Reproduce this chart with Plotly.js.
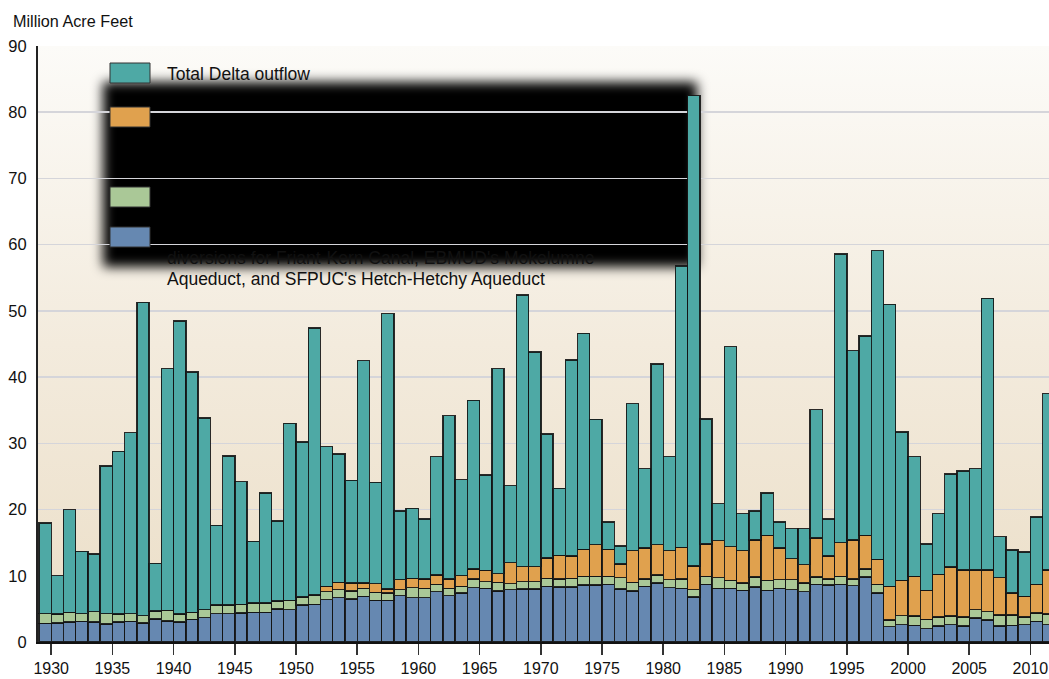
<!DOCTYPE html>
<html><head><meta charset="utf-8">
<script src="https://cdn.plot.ly/plotly-3.0.1.min.js"></script>
<style>html,body{margin:0;padding:0;background:#fff;} #chart{width:1049px;height:679px;}</style>
</head><body><div id="chart"></div><script>
const years = [1929,1930,1931,1932,1933,1934,1935,1936,1937,1938,
1939,1940,1941,1942,1943,1944,1945,1946,1947,1948,
1949,1950,1951,1952,1953,1954,1955,1956,1957,1958,
1959,1960,1961,1962,1963,1964,1965,1966,1967,1968,
1969,1970,1971,1972,1973,1974,1975,1976,1977,1978,
1979,1980,1981,1982,1983,1984,1985,1986,1987,1988,
1989,1990,1991,1992,1993,1994,1995,1996,1997,1998,
1999,2000,2001,2002,2003,2004,2005,2006,2007,2008,
2009,2010,2011];

// Upstream diversions (blue)
const upstream = [2.8,2.9,3.0,3.1,3.0,2.7,3.0,3.1,2.9,3.5,
3.2,3.0,3.4,3.7,4.3,4.3,4.4,4.5,4.5,5.0,
4.9,5.6,5.7,6.4,6.7,6.5,6.9,6.3,6.3,7.0,
6.7,6.7,7.6,7.0,7.4,8.2,8.1,7.7,7.9,8.0,
8.0,8.4,8.3,8.3,8.6,8.6,8.7,8.0,7.7,8.4,
8.9,8.2,8.1,6.8,8.7,8.1,8.1,7.8,8.3,7.8,
8.1,7.9,7.6,8.7,8.6,8.7,8.5,9.8,7.4,2.3,
2.6,2.5,2.0,2.4,2.6,2.4,3.6,3.3,2.4,2.5,
2.6,3.1,2.6];

// In-Delta diversions (green)
const inDelta = [1.5,1.3,1.5,1.2,1.6,1.6,1.2,1.2,1.1,1.2,
1.6,1.2,1.1,1.2,1.3,1.3,1.3,1.4,1.4,1.2,
1.4,1.2,1.3,1.2,1.2,1.2,1.2,1.2,1.1,0.9,
1.5,1.4,1.1,1.1,1.0,1.3,1.0,1.3,0.9,1.1,
1.1,1.2,1.2,1.3,1.3,1.3,1.2,1.7,1.3,1.1,
1.2,1.2,1.4,1.1,1.2,1.6,1.2,1.1,1.5,1.5,
1.3,1.5,1.3,1.1,0.9,1.2,1.0,1.2,1.3,1.0,
1.4,1.4,1.4,1.4,1.3,1.4,1.3,1.3,1.7,1.6,
1.2,1.3,1.6];

// Project exports (orange)
const exportsWater = [0,0,0,0,0,0,0,0,0,0,
0,0,0,0,0,0,0,0,0,0,
0,0,0.1,0.8,1.1,1.2,0.8,1.3,0.6,1.5,
1.4,1.4,1.4,1.4,1.6,1.5,1.7,1.3,3.2,2.3,
2.3,3.1,3.6,3.4,4.1,4.8,4.1,2.1,4.8,4.7,
4.6,4.4,4.8,3.6,4.9,5.6,5.1,4.9,5.6,6.8,
4.8,3.2,2.8,5.9,3.5,5.1,5.9,5.1,3.8,5.1,
5.3,6.0,4.4,6.4,7.4,7.1,6.0,6.3,5.6,3.3,
3.1,4.3,6.7];

// Delta outflow (teal)
const outflow = [13.7,5.8,15.5,9.4,8.7,22.3,24.6,27.3,47.3,7.2,
36.5,44.3,36.3,28.9,12.0,22.5,18.5,9.3,16.6,12.1,
26.7,23.4,40.3,21.1,19.4,15.5,33.6,15.3,41.6,10.4,
10.6,9.1,17.9,24.7,14.5,25.5,14.4,31.0,11.6,41.0,
32.4,18.7,10.1,29.6,32.6,18.9,4.1,2.7,22.2,12.0,
27.3,14.2,42.5,71.0,18.9,5.6,30.2,5.6,4.4,6.4,
3.9,4.5,5.4,19.4,5.6,43.6,28.6,30.1,46.6,42.6,
22.4,18.1,7.0,9.2,14.1,14.9,15.3,41.0,6.2,6.5,
6.7,10.2,26.6];

const xTicks = [1930,1935,1940,1945,1950,1955,1960,1965,1970,1975,1980,1985,1990,1995,2000,2005,2010];
const yTicks = [0,10,20,30,40,50,60,70,80,90];

const colors = {blue:'#6688b1', green:'#aac897', orange:'#e0a14e', teal:'#4ea9a5'};
const FONT = 'Liberation Sans, Arial, sans-serif';

// plot area in pixels
const PL=38, PR=1049, PT=46, PB=642;
const px = x => (x-PL)/(PR-PL);
const py = y => (PB-y)/(PB-PT);

function barTrace(vals, color, name){
  return {type:'bar', x:years, y:vals, name:name, width:1, offset:0,
    marker:{color:color, line:{color:'rgba(20,20,20,0.9)', width:1.4}},
    hoverinfo:'x+y+name'};
}

const data = [
  barTrace(upstream, colors.blue, 'Upstream diversions'),
  barTrace(inDelta, colors.green, 'In-Delta diversions'),
  barTrace(exportsWater, colors.orange, 'Exports'),
  barTrace(outflow, colors.teal, 'Total Delta outflow')
];

const bgSvg = '<svg xmlns="http://www.w3.org/2000/svg" width="100" height="100" viewBox="0 0 100 100" preserveAspectRatio="none">'+
 '<defs><linearGradient id="g" x1="0" y1="0" x2="0" y2="1">'+
 '<stop offset="0" stop-color="#fcfbf8"/><stop offset="0.5" stop-color="#f3ebdd"/><stop offset="1" stop-color="#ebdec7"/>'+
 '</linearGradient></defs><rect x="0" y="0" width="100" height="100" fill="url(#g)"/></svg>';

const boxSvg = '<svg xmlns="http://www.w3.org/2000/svg" width="640" height="240" viewBox="0 0 640 240" preserveAspectRatio="none">'+
 '<defs><filter id="b" x="-10%" y="-20%" width="120%" height="140%"><feGaussianBlur stdDeviation="6"/></filter></defs>'+
 '<rect x="23" y="22" width="594" height="185" fill="#000" filter="url(#b)"/></svg>';

const uri = s => 'data:image/svg+xml;charset=utf-8,' + encodeURIComponent(s);

const swatch = (y0, y1, color) => ({type:'rect', xref:'paper', yref:'paper', layer:'above',
  x0:px(110), x1:px(150), y0:py(y1), y1:py(y0), fillcolor:color, line:{color:'#333', width:1}});

const legText = (txt, y) => ({xref:'paper', yref:'paper', x:px(165), y:py(y), xanchor:'left', yanchor:'middle',
  text:txt, showarrow:false, font:{family:FONT, size:17.5, color:'#111'}});

const layout = {
  width:1049, height:679,
  margin:{l:PL, r:1049-PR, t:PT, b:679-PB, pad:0},
  paper_bgcolor:'#ffffff', plot_bgcolor:'rgba(0,0,0,0)',
  barmode:'stack', bargap:0, showlegend:false,
  font:{family:FONT, size:16, color:'#111'},
  xaxis:{range:[1928.92, 2011.52], tickmode:'array', tickvals:xTicks, ticktext:xTicks.map(String),
    ticks:'outside', ticklen:11, tickwidth:1.5, tickcolor:'#333',
    showline:true, linecolor:'#111', linewidth:2, showgrid:false, zeroline:false,
    ticklabelstandoff:0,
    tickfont:{family:FONT, size:16, color:'#111'}, fixedrange:true},
  yaxis:{range:[0,90], tickmode:'array', tickvals:yTicks, ticktext:yTicks.map(String),
    showgrid:true, gridcolor:'#d5d5da', gridwidth:1.5,
    showline:true, linecolor:'#222', linewidth:2, ticks:'', zeroline:false,
    ticklabelstandoff:6,
    tickfont:{family:FONT, size:16.5, color:'#111'}, fixedrange:true},
  images:[
    {source:uri(bgSvg), xref:'paper', yref:'paper', x:0, y:1, sizex:1, sizey:1,
      xanchor:'left', yanchor:'top', sizing:'stretch', layer:'below'},
    {source:uri(boxSvg), xref:'paper', yref:'paper', x:px(80), y:py(60),
      sizex:640/(PR-PL), sizey:240/(PB-PT), xanchor:'left', yanchor:'top', sizing:'stretch', layer:'below'}
  ],
  shapes:[
    swatch(63, 83, colors.teal),
    swatch(107, 127, colors.orange),
    swatch(187, 207, colors.green),
    swatch(227, 247, colors.blue)
  ],
  annotations:[
    {xref:'paper', yref:'paper', x:px(11), y:py(21), xanchor:'left', yanchor:'middle',
      text:'Million Acre Feet', showarrow:false, font:{family:FONT, size:16.2, color:'#111'}},
    legText('Total Delta outflow', 74),
    legText("diversions for Friant-Kern Canal, EBMUD's Mokelumne", 258),
    legText("Aqueduct, and SFPUC's Hetch-Hetchy Aqueduct", 279)
  ]
};

Plotly.newPlot('chart', data, layout, {displayModeBar:false, staticPlot:true});
</script></body></html>
